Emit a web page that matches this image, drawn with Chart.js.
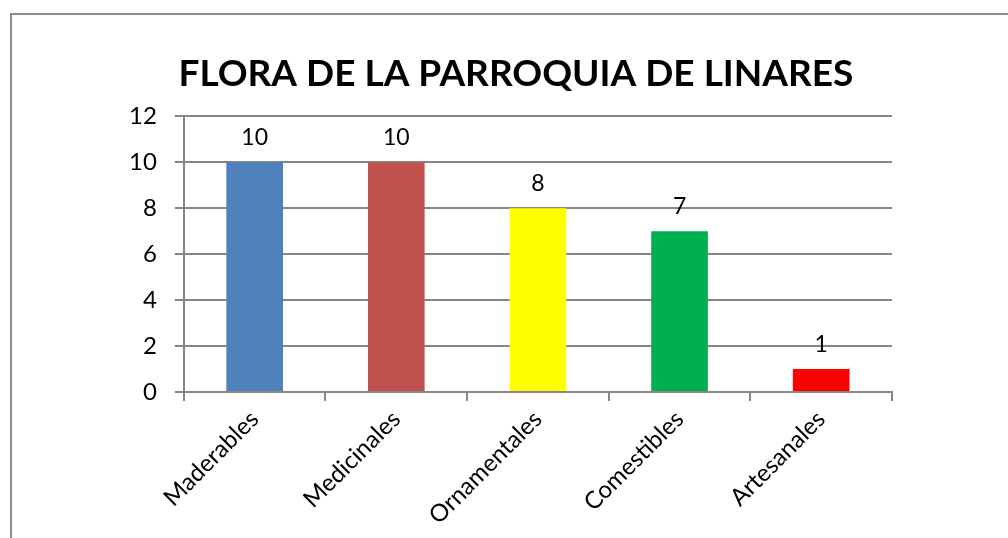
<!DOCTYPE html>
<html lang="es">
<head>
<meta charset="UTF-8" />
<title>Flora de la parroquia de Linares</title>
<script src="https://cdn.jsdelivr.net/npm/chart.js"></script>
<style>
  html, body { margin: 0; padding: 0; background: #fff; overflow: hidden; }
  .marco {
    position: absolute; left: 10px; top: 13px;
    width: 1010px; height: 540px;
    border: 2px solid #8c8c8c;
  }
  .grafico { position: absolute; left: 0; top: 0; width: 1008px; height: 538px; }
</style>
</head>
<body>
<div class="marco"></div>
<div class="grafico"><canvas id="graficoFlora"></canvas></div>

<script>
  // datos
  const categorias = ["Maderables", "Medicinales", "Ornamentales", "Comestibles", "Artesanales"];
  const valores = [10, 10, 8, 7, 1];
  const colores = ["#4f81bd", "#c0504d", "#ffff00", "#00b050", "#ff0000"];
  const ticksY = [0, 2, 4, 6, 8, 10, 12];

  const fuente = "Lato, 'Liberation Sans', sans-serif";
  const gris = "#868686";

  // etiqueta con el valor encima de cada barra
  const etiquetasValor = {
    id: "etiquetasValor",
    afterDatasetsDraw(chart) {
      const ctx = chart.ctx;
      const meta = chart.getDatasetMeta(0);
      ctx.save();
      ctx.font = "23px " + fuente;
      ctx.fillStyle = "#000";
      ctx.textAlign = "center";
      ctx.textBaseline = "bottom";
      meta.data.forEach(function (barra, i) {
        ctx.fillText(String(valores[i]), barra.x, barra.y - 13);
      });
      ctx.restore();
    },
  };

  // el título va algo más a la derecha que el centro del lienzo
  const centrarTitulo = {
    id: "centrarTitulo",
    afterLayout(chart) {
      const t = chart.titleBlock;
      if (t) t.left = chart.chartArea.left - 44;
    },
  };

  new Chart(document.getElementById("graficoFlora"), {
    type: "bar",
    data: {
      labels: categorias,
      datasets: [
        {
          data: valores,
          backgroundColor: colores,
          borderWidth: 0,
          categoryPercentage: 1,
          barPercentage: 0.4,
        },
      ],
    },
    options: {
      responsive: true,
      maintainAspectRatio: false,
      animation: false,
      layout: { padding: { left: 111, right: 116, top: 10, bottom: 4 } },
      plugins: {
        legend: { display: false },
        tooltip: { enabled: false },
        title: {
          display: true,
          text: "FLORA DE LA PARROQUIA DE LINARES",
          color: "#000",
          font: { family: fuente, size: 37, weight: "bold" },
          padding: { top: 42, bottom: 20 },
        },
      },
      scales: {
        y: {
          min: 0,
          max: 12,
          afterBuildTicks(axis) {
            axis.ticks = ticksY.map((v) => ({ value: v }));
          },
          ticks: { color: "#000", font: { family: fuente, size: 24 }, padding: 18 },
          grid: { color: gris, lineWidth: 2, tickLength: 9 },
          border: { color: gris, width: 2 },
        },
        x: {
          ticks: {
            color: "#000",
            font: { family: fuente, size: 24 },
            maxRotation: 45,
            minRotation: 45,
            padding: 4,
          },
          grid: { color: gris, lineWidth: 2, tickLength: 9, drawOnChartArea: false, offset: true },
          border: { color: gris, width: 2 },
        },
      },
    },
    plugins: [etiquetasValor, centrarTitulo],
  });
</script>
</body>
</html>
